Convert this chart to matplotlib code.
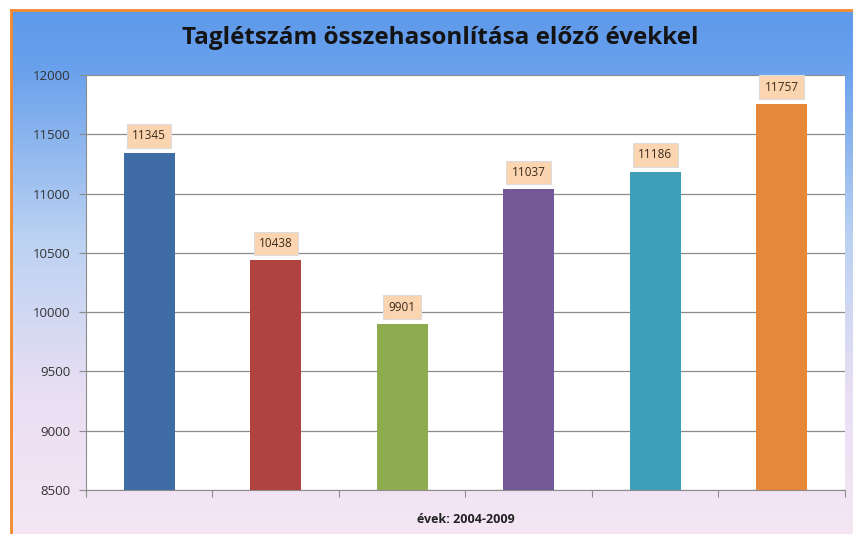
import numpy as np
import matplotlib.pyplot as plt
from matplotlib.colors import LinearSegmentedColormap
from matplotlib.patches import Rectangle

# Data
years = ["2004", "2005", "2006", "2007", "2008", "2009"]
members = [11345, 10438, 9901, 11037, 11186, 11757]
bar_colors = ["#3f6ca4", "#b0423f", "#8eab50", "#735997", "#3f9fb8", "#e6883a"]
yticks = [8500, 9000, 9500, 10000, 10500, 11000, 11500, 12000]

plt.rcParams['font.family'] = ['Open Sans', 'DejaVu Sans']

fig = plt.figure(figsize=(8.54, 5.34), dpi=100)

# Background gradient (blue top -> light pink bottom)
bg = fig.add_axes([0, 0, 1, 1], zorder=-10)
cmap = LinearSegmentedColormap.from_list(
    "bg", [(0.0, "#5c98ea"), (0.12, "#68a0ec"), (0.45, "#bcd2f2"), (0.75, "#eadff3"), (1.0, "#f5e6f4")])
grad = np.linspace(0, 1, 256).reshape(-1, 1)
bg.imshow(grad, aspect="auto", cmap=cmap, extent=[0, 1, 0, 1], origin="upper")
bg.add_patch(Rectangle((0.0, 0.0), 0.012, 1, color="white", transform=bg.transAxes))
bg.add_patch(Rectangle((0.0, 0.982), 1, 0.02, color="white", transform=bg.transAxes))
bg.plot([0.0125, 0.0125], [0, 0.981], color="#f28a2e", lw=2, transform=bg.transAxes)
bg.plot([0.0125, 1.0], [0.981, 0.981], color="#f28a2e", lw=2, transform=bg.transAxes)
bg.set_xlim(0, 1)
bg.set_ylim(0, 1)
bg.axis("off")

W, H = 854, 534
ax = fig.add_axes([86 / W, 1 - 490 / H, (845 - 86) / W, (490 - 75) / H])
ax.set_facecolor("white")

x = np.arange(len(years))
ax.bar(x, members, width=0.4, color=bar_colors, zorder=3)
ax.set_xlim(-0.5, len(years) - 0.5)
ax.set_ylim(8500, 12000)
ax.set_yticks(yticks)
ax.set_yticklabels([str(v) for v in yticks], fontsize=9.5, color="#333333")
ax.yaxis.grid(True, color="#8c8c8c", lw=0.9, zorder=0)
ax.tick_params(axis="y", length=5, color="#8c8c8c", pad=6)

ax.set_xticks(np.arange(len(years) + 1) - 0.5)
ax.set_xticklabels([])
ax.tick_params(axis="x", length=5, color="#8c8c8c")

for s in ["top", "right"]:
    ax.spines[s].set_visible(False)
for s in ["left", "bottom"]:
    ax.spines[s].set_color("#8c8c8c")

for xi, v in zip(x, members):
    ax.annotate(str(v), (xi, v), xytext=(0, 12), textcoords="offset points",
                ha="center", va="center", fontsize=8.5, color="#3a2a1a", zorder=5,
                bbox=dict(boxstyle="square,pad=0.45", fc="#fbd4b0", ec="#dcdcdc", lw=0.8))

ax.set_xlabel("évek: 2004-2009", fontsize=9, fontweight="bold", color="#222222", labelpad=8)

fig.text(0.515, 0.928, "Taglétszám összehasonlítása előző évekkel", ha="center", va="center",
         fontsize=17.5, fontweight="bold", color="#141414")

fig.savefig("out.png", dpi=100)
